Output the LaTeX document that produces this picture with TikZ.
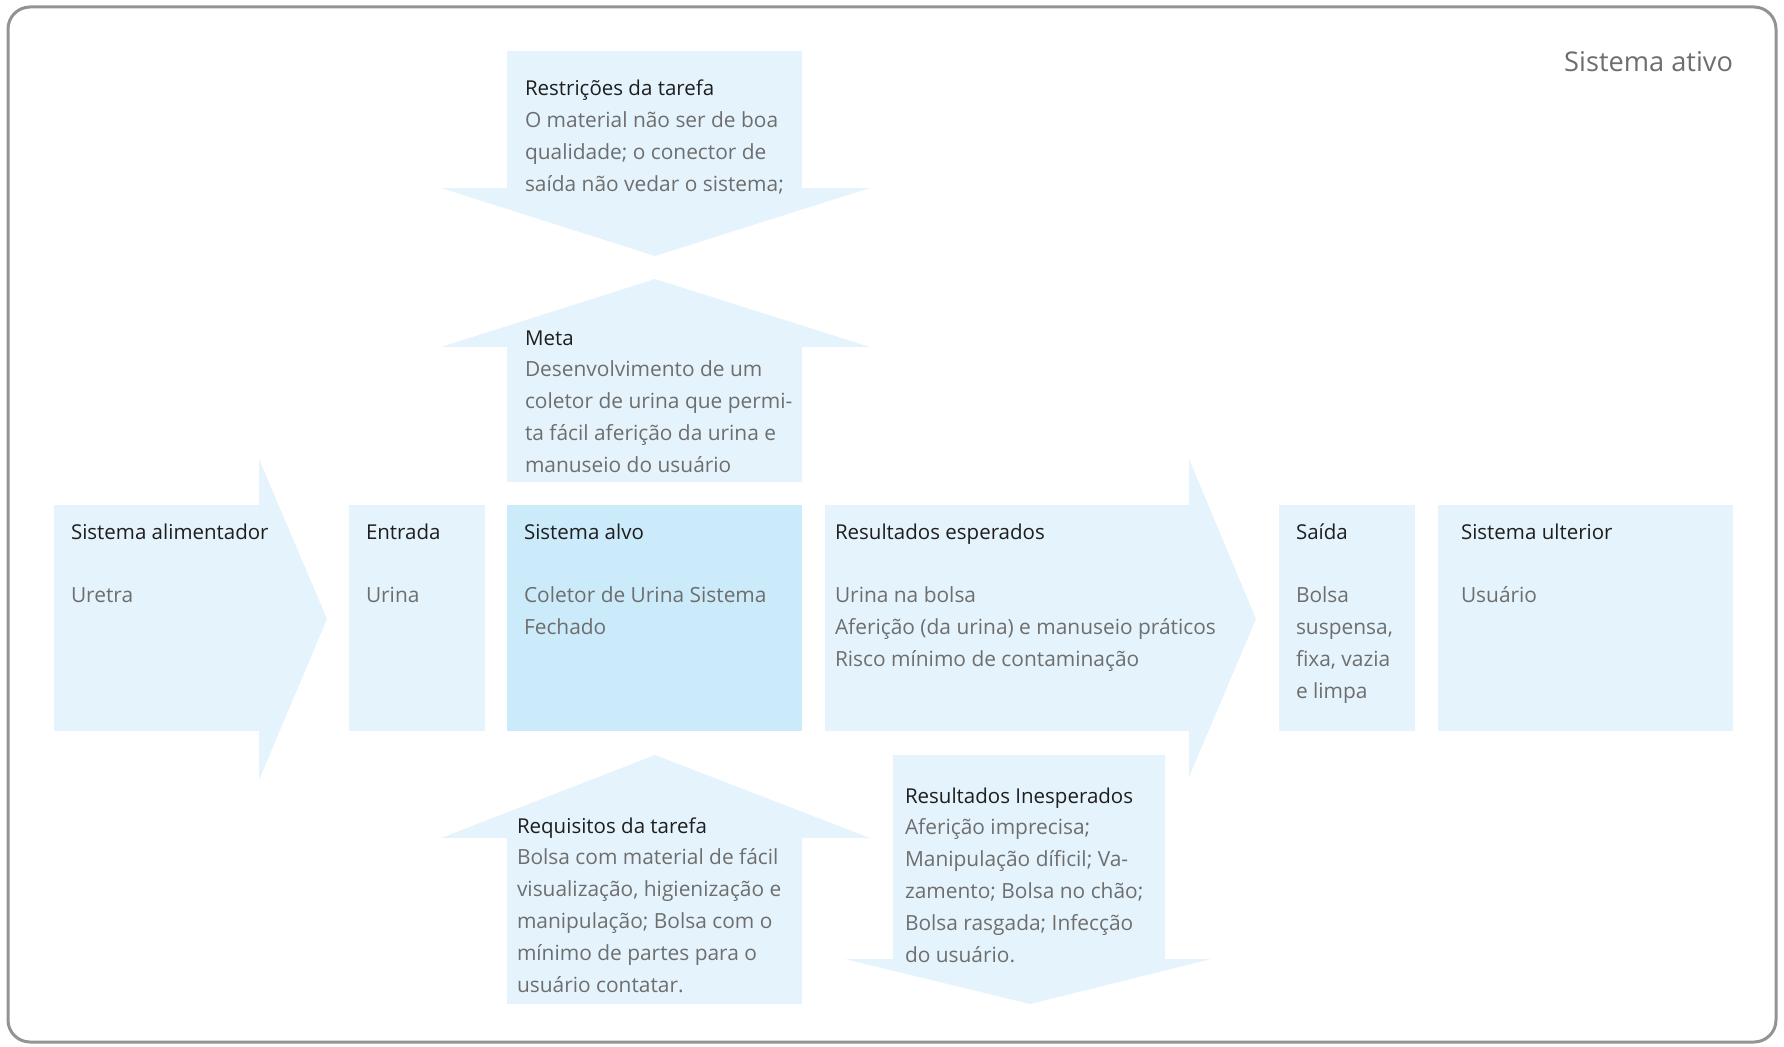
\documentclass[tikz,border=0pt]{standalone}
\usepackage{fontspec}
\setmainfont{Open Sans}
\definecolor{boxc}{HTML}{E5F4FC}
\definecolor{alvoc}{HTML}{CCEBFA}
\definecolor{titlec}{HTML}{1E1E1E}
\definecolor{bodyc}{HTML}{6E6E6E}
\definecolor{framec}{HTML}{939393}
\newcommand\tlines[1]{\vtop{\baselineskip=31.9pt\lineskiplimit=-100pt\lineskip=0pt\halign{##\hfil\cr #1\crcr}}}
\newcommand\ttl[1]{{\color{titlec}\fontsize{20.5}{31.9}\selectfont#1}}
\tikzset{
  shp/.style={fill=boxc, draw=none},
  txt/.style={anchor=base west, inner sep=0pt, outer sep=0pt, text=bodyc, font=\fontsize{20.9}{31.9}\selectfont},
}
\begin{document}
\begin{tikzpicture}[x=1pt,y=-1pt]
\useasboundingbox (0,0) rectangle (1784,1046);
% frame
\draw[framec, line width=3pt, rounded corners=22pt] (8,7) rectangle (1776,1042);
% top down arrow (Restricoes)
\fill[shp] (507,51) -- (802,51) -- (802,188) -- (870,188) -- (655,256) -- (441,188) -- (507,188) -- cycle;
% meta up arrow
\fill[shp] (655,279) -- (870,347) -- (802,347) -- (802,482) -- (507,482) -- (507,347) -- (441,347) -- cycle;
% alimentador right arrow
\fill[shp] (54,505) -- (259,505) -- (259,459) -- (327,619) -- (259,780) -- (259,731) -- (54,731) -- cycle;
% entrada
\fill[shp] (349,505) rectangle (485,731);
% sistema alvo
\fill[alvoc] (507,505) rectangle (802,731);
% resultados esperados arrow
\fill[shp] (825,505) -- (1189,505) -- (1189,459) -- (1256,619) -- (1189,777) -- (1189,731) -- (825,731) -- cycle;
% saida
\fill[shp] (1279,505) rectangle (1415,731);
% ulterior
\fill[shp] (1438,505) rectangle (1733,731);
% requisitos up arrow
\fill[shp] (655,755) -- (870,838) -- (802,838) -- (802,1004) -- (507,1004) -- (507,838) -- (441,838) -- cycle;
% inesperados down arrow
\fill[shp] (893,755) -- (1165,755) -- (1165,959) -- (1211,959) -- (1030,1004) -- (845,959) -- (893,959) -- cycle;

% texts
\node[txt, anchor=base east, font=\fontsize{27.2}{32}\selectfont] (ativo) at (1733,72) {Sistema ativo};
\node[txt] (restr) at (525,96) {\tlines{\ttl{Restrições da tarefa}\cr O material não ser de boa\cr qualidade; o conector de\cr saída não vedar o sistema;}};
\node[txt] (meta) at (525,345) {\tlines{\ttl{Meta}\cr Desenvolvimento de um\cr coletor de urina que permi-\cr ta fácil aferição da urina e\cr manuseio do usuário}};
\node[txt] (alim) at (71,539) {\tlines{\ttl{Sistema alimentador}\cr\cr Uretra}};
\node[txt] (entr) at (366,539) {\tlines{\ttl{Entrada}\cr\cr Urina}};
\node[txt] (alvo) at (524,539) {\tlines{\ttl{Sistema alvo}\cr\cr Coletor de Urina Sistema\cr Fechado}};
\node[txt] (esp) at (835,539) {\tlines{\ttl{Resultados esperados}\cr\cr Urina na bolsa\cr Aferição (da urina) e manuseio práticos\cr Risco mínimo de contaminação}};
\node[txt] (said) at (1296,539) {\tlines{\ttl{Saída}\cr\cr Bolsa\cr suspensa,\cr fixa, vazia\cr e limpa}};
\node[txt] (ult) at (1461,539) {\tlines{\ttl{Sistema ulterior}\cr\cr Usuário}};
\node[txt] (req) at (517,833) {\tlines{\ttl{Requisitos da tarefa}\cr Bolsa com material de fácil\cr visualização, higienização e\cr manipulação; Bolsa com o\cr mínimo de partes para o\cr usuário contatar.}};
\node[txt] (ines) at (905,803) {\tlines{\ttl{Resultados Inesperados}\cr Aferição imprecisa;\cr Manipulação díficil; Va-\cr zamento; Bolsa no chão;\cr Bolsa rasgada; Infecção\cr do usuário.}};
\end{tikzpicture}
\end{document}
